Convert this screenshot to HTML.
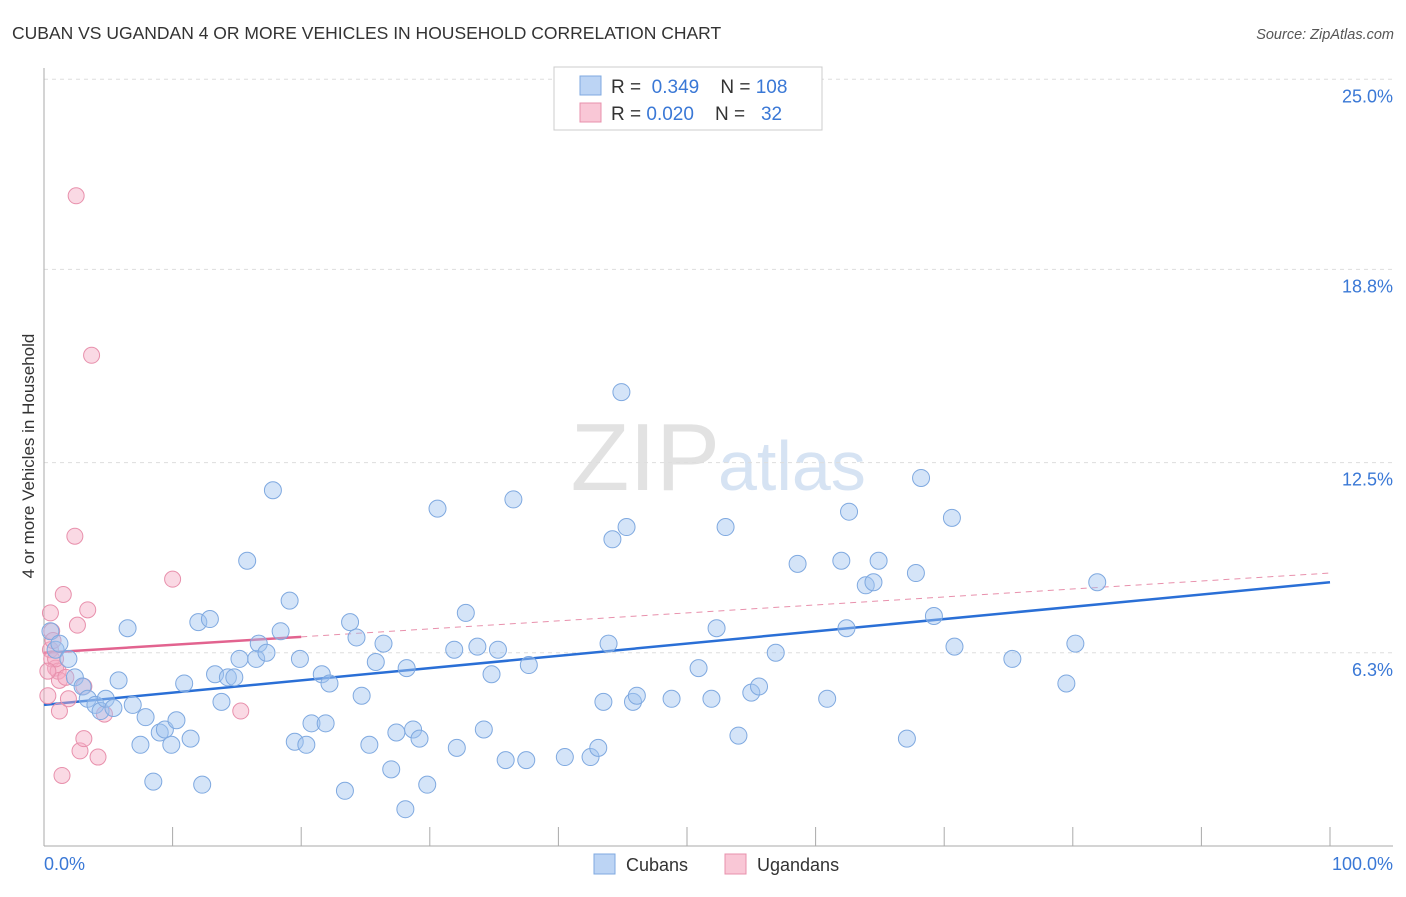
<!DOCTYPE html>
<html><head><meta charset="utf-8"><style>
body{margin:0;background:#fff;font-family:"Liberation Sans",sans-serif;}
svg text{font-family:"Liberation Sans",sans-serif;}
</style></head><body>
<svg id="chart" width="1406" height="892" xmlns="http://www.w3.org/2000/svg">
<text x="12" y="39" font-size="17.5" fill="#333">CUBAN VS UGANDAN 4 OR MORE VEHICLES IN HOUSEHOLD CORRELATION CHART</text>
<text x="1394" y="39" font-size="14.5" fill="#555" font-style="italic" text-anchor="end">Source: ZipAtlas.com</text>
<text transform="translate(34,456) rotate(-90)" font-size="17" fill="#333" text-anchor="middle">4 or more Vehicles in Household</text>
<text x="720" y="490" font-size="96" fill="#e2e2e2" text-anchor="end" font-family="Liberation Serif">ZIP</text>
<text x="718" y="490" font-size="70" fill="#d6e3f3">atlas</text>
<g id="grid"></g><g id="axes"></g><g id="trends"></g><g id="pts"></g>
<g>
<rect x="554" y="67" width="268" height="63" fill="#fff" stroke="#ccc"/>
<rect x="580" y="76" width="21" height="19" fill="#bcd4f4" stroke="#7fa9e0"/>
<rect x="580" y="103" width="21" height="19" fill="#f9c7d6" stroke="#e890ac"/>
<text x="611" y="93" font-size="19" fill="#333">R = <tspan fill="#3a78d6">&#160;0.349</tspan>&#160;&#160;&#160;&#160;N = <tspan fill="#3a78d6">108</tspan></text>
<text x="611" y="120" font-size="19" fill="#333">R = <tspan fill="#3a78d6">0.020</tspan>&#160;&#160;&#160;&#160;N = <tspan fill="#3a78d6">&#160;&#160;32</tspan></text>
</g>
<g>
<rect x="594" y="854" width="21" height="20" fill="#bcd4f4" stroke="#7fa9e0"/>
<text x="626" y="871" font-size="18" fill="#333">Cubans</text>
<rect x="725" y="854" width="21" height="20" fill="#f9c7d6" stroke="#e890ac"/>
<text x="757" y="871" font-size="18" fill="#333">Ugandans</text>
</g>
</svg>
<script>
const yTicks=[25.0,18.8,12.5,6.3];
const yTickLabels=["25.0%","18.8%","12.5%","6.3%"];
const xTickVals=[0,10,20,30,40,50,60,70,80,90,100];
const cubanX=[0.5,0.9,1.2,1.9,2.4,3.0,3.4,4.0,4.4,4.8,5.4,5.8,6.5,6.9,7.5,7.9,8.5,9.0,9.4,9.9,10.3,10.9,11.4,12.0,12.3,12.9,13.3,13.8,14.3,14.8,15.2,15.8,16.5,16.7,17.3,17.8,18.4,19.1,19.5,19.9,20.4,20.8,21.6,21.9,22.2,23.4,23.8,24.3,24.7,25.3,25.8,26.4,27.0,27.4,28.1,28.2,28.7,29.2,29.8,30.6,31.9,32.1,32.8,33.7,34.2,34.8,35.3,35.9,36.5,37.5,37.7,40.5,42.5,43.1,43.5,43.9,44.2,44.9,45.3,45.8,46.1,48.8,50.9,51.9,52.3,53.0,54.0,55.0,55.6,56.9,58.6,60.9,62.0,62.4,62.6,63.9,64.5,64.9,67.1,67.8,68.2,69.2,70.6,70.8,75.3,79.5,80.2,81.9];
const cubanY=[7.0,6.4,6.6,6.1,5.5,5.2,4.8,4.6,4.4,4.8,4.5,5.4,7.1,4.6,3.3,4.2,2.1,3.7,3.8,3.3,4.1,5.3,3.5,7.3,2.0,7.4,5.6,4.7,5.5,5.5,6.1,9.3,6.1,6.6,6.3,11.6,7.0,8.0,3.4,6.1,3.3,4.0,5.6,4.0,5.3,1.8,7.3,6.8,4.9,3.3,6.0,6.6,2.5,3.7,1.2,5.8,3.8,3.5,2.0,11.0,6.4,3.2,7.6,6.5,3.8,5.6,6.4,2.8,11.3,2.8,5.9,2.9,2.9,3.2,4.7,6.6,10.0,14.8,10.4,4.7,4.9,4.8,5.8,4.8,7.1,10.4,3.6,5.0,5.2,6.3,9.2,4.8,9.3,7.1,10.9,8.5,8.6,9.3,3.5,8.9,12.0,7.5,10.7,6.5,6.1,5.3,6.6,8.6];
const ugandanX=[0.5,0.6,0.5,0.6,0.9,1.1,1.2,1.2,1.4,1.5,1.7,1.9,2.4,2.5,2.6,2.8,3.1,3.1,3.4,3.7,4.2,4.7,10.0,15.3,0.7,0.9,0.3,0.3];
const ugandanY=[7.6,7.0,6.4,6.1,5.8,5.7,5.4,4.4,2.3,8.2,5.5,4.8,10.1,21.2,7.2,3.1,3.5,5.2,7.7,16.0,2.9,4.3,8.7,4.4,6.7,6.1,5.7,4.9];
const cubanTrend=[4.6,8.6];
const ugandanTrend=[6.3,8.9];
const NS="http://www.w3.org/2000/svg";
const X0=44,X1=1330,YB=846,YPX=30.67;
const xs=v=>X0+(X1-X0)*v/100;
const ys=v=>YB-v*YPX;
function mk(tag,attrs,parent){const e=document.createElementNS(NS,tag);for(const k in attrs)e.setAttribute(k,attrs[k]);parent.appendChild(e);return e;}
const grid=document.getElementById('grid'),axes=document.getElementById('axes');
yTicks.forEach((t,i)=>{
 const l=mk('line',{x1:44,x2:1393,y1:ys(t),y2:ys(t),stroke:'#ddd','stroke-dasharray':'4,4'},grid);
 
 
 const tx=mk('text',{x:1393,y:ys(t)+23,'font-size':18,fill:'#3a78d6','text-anchor':'end'},axes);
 tx.textContent=yTickLabels[i];
 
 
});
const ax=mk('line',{x1:44,x2:1393,y1:846,y2:846,stroke:'#aaa'},axes);


const ay=mk('line',{x1:44,x2:44,y1:68,y2:846,stroke:'#aaa'},axes);


xTickVals.forEach(v=>{
 const t=mk('line',{x1:xs(v),x2:xs(v),y1:827,y2:846,stroke:'#aaa'},axes);
 
 
});
const xl0=mk('text',{x:44,y:870,'font-size':18,fill:'#3a78d6'},axes);xl0.textContent='0.0%';


const xl1=mk('text',{x:1393,y:870,'font-size':18,fill:'#3a78d6','text-anchor':'end'},axes);xl1.textContent='100.0%';


const pts=document.getElementById('pts'),tr=document.getElementById('trends');
ugandanX.forEach((x,i)=>{
 const c=mk('circle',{cx:xs(x),cy:ys(ugandanY[i]),r:8,fill:'rgba(245,170,195,0.45)',stroke:'#e890ac','stroke-width':1},pts);
 
 
});
cubanX.forEach((x,i)=>{
 const c=mk('circle',{cx:xs(x),cy:ys(cubanY[i]),r:8.5,fill:'rgba(160,196,240,0.45)',stroke:'#7fa9e0','stroke-width':1},pts);
 
 
});
const uf=v=>ugandanTrend[0]+(ugandanTrend[1]-ugandanTrend[0])*v/100;
const ud=mk('line',{x1:xs(20),y1:ys(uf(20)),x2:xs(100),y2:ys(uf(100)),stroke:'#e890ac','stroke-width':1,'stroke-dasharray':'6,5'},tr);


const us=mk('line',{x1:xs(0),y1:ys(uf(0)),x2:xs(20),y2:ys(uf(20)),stroke:'#e2638f','stroke-width':2.5},tr);


const cl=mk('line',{x1:xs(0),y1:ys(cubanTrend[0]),x2:xs(100),y2:ys(cubanTrend[1]),stroke:'#2a6fd6','stroke-width':2.5},tr);


</script>
</body></html>
